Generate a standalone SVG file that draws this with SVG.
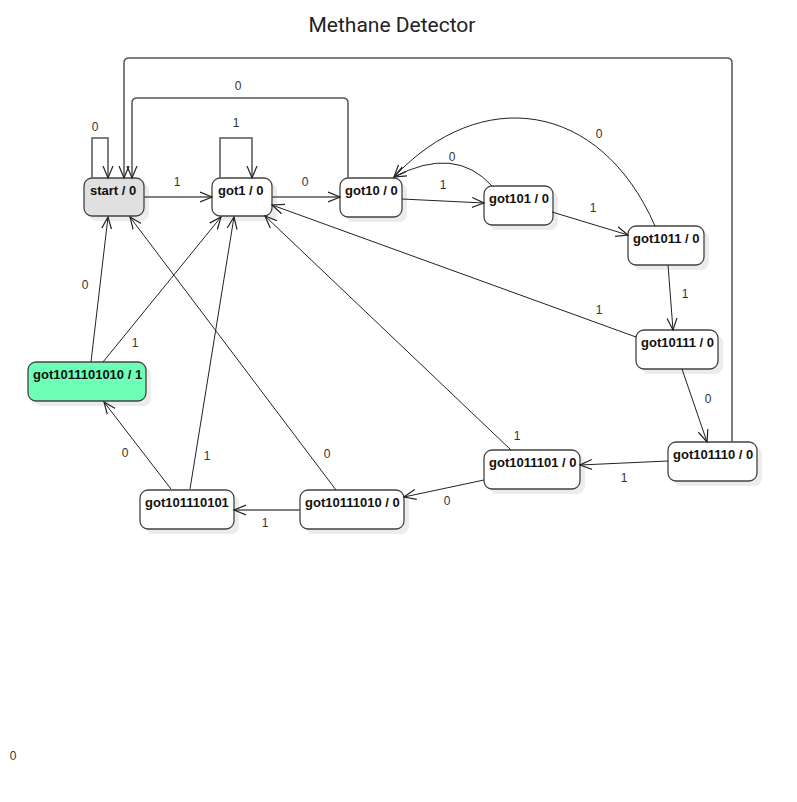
<svg xmlns="http://www.w3.org/2000/svg" width="797" height="802" viewBox="0 0 797 802">
<style>
.bg{fill:#ffffff}
.sh{fill:#ececec}
.nd{fill:#ffffff;stroke:#444;stroke-width:1.3}
.nt{font-family:"Liberation Sans",Arial,sans-serif;font-size:13px;font-weight:bold;fill:#111}
.e{fill:none;stroke:#222;stroke-width:1}
.eo{fill:none;stroke:#555;stroke-width:1.5}
.el{font-family:"Liberation Sans",Arial,sans-serif;font-size:12px;fill:#333;text-anchor:middle}
.title{font-family:Roboto,"Liberation Sans",sans-serif;font-size:21px;fill:#222;text-anchor:middle}
</style>
<defs>
<marker id="arr" markerUnits="userSpaceOnUse" markerWidth="14" markerHeight="12" refX="12" refY="6" orient="auto" viewBox="0 0 14 12">
<path d="M0,1 L12,6 L0,11" fill="none" stroke="#222" stroke-width="1.2"/>
</marker>
</defs>
<rect class="bg" x="0" y="0" width="797" height="802"/>
<text class="title" x="392" y="32">Methane Detector</text>

<g id="start">
<rect class="sh" x="89" y="183" width="60" height="38" rx="8"/>
<rect class="nd" x="84" y="178" width="60" height="38" rx="8" style="fill:#e0e0e0"/>
<text class="nt" x="90" y="195">start / 0</text>
</g>
<g id="got1">
<rect class="sh" x="217" y="183" width="60" height="38" rx="8"/>
<rect class="nd" x="212" y="178" width="60" height="38" rx="8"/>
<text class="nt" x="218" y="195">got1 / 0</text>
</g>
<g id="got10">
<rect class="sh" x="345" y="183" width="62" height="39" rx="8"/>
<rect class="nd" x="340" y="178" width="62" height="39" rx="8"/>
<text class="nt" x="345" y="195">got10 / 0</text>
</g>
<g id="got101">
<rect class="sh" x="489" y="191" width="69" height="39" rx="8"/>
<rect class="nd" x="484" y="186" width="69" height="39" rx="8"/>
<text class="nt" x="489" y="203">got101 / 0</text>
</g>
<g id="got1011">
<rect class="sh" x="633" y="231" width="76" height="39" rx="8"/>
<rect class="nd" x="628" y="226" width="76" height="39" rx="8"/>
<text class="nt" x="633" y="243">got1011 / 0</text>
</g>
<g id="got10111">
<rect class="sh" x="641" y="335" width="82" height="39" rx="8"/>
<rect class="nd" x="636" y="330" width="82" height="39" rx="8"/>
<text class="nt" x="641" y="347">got10111 / 0</text>
</g>
<g id="got101110">
<rect class="sh" x="673" y="447" width="89" height="39" rx="8"/>
<rect class="nd" x="668" y="442" width="89" height="39" rx="8"/>
<text class="nt" x="673" y="459">got101110 / 0</text>
</g>
<g id="got1011101">
<rect class="sh" x="489" y="455" width="96" height="39" rx="8"/>
<rect class="nd" x="484" y="450" width="96" height="39" rx="8"/>
<text class="nt" x="489" y="467">got1011101 / 0</text>
</g>
<g id="got10111010">
<rect class="sh" x="305" y="495" width="104" height="39" rx="8"/>
<rect class="nd" x="300" y="490" width="104" height="39" rx="8"/>
<text class="nt" x="305" y="507">got10111010 / 0</text>
</g>
<g id="got101110101">
<rect class="sh" x="145" y="495" width="94" height="39" rx="8"/>
<rect class="nd" x="140" y="490" width="94" height="39" rx="8"/>
<text class="nt" x="145" y="507">got101110101</text>
</g>
<g id="got1011101010">
<rect class="sh" x="33" y="367" width="118" height="39" rx="8"/>
<rect class="nd" x="28" y="362" width="118" height="39" rx="8" style="fill:#6dffb6"/>
<text class="nt" x="33" y="379">got1011101010 / 1</text>
</g>

<g id="connectors">
<path class="eo" d="M92,178 V138 H108 V178" marker-end="url(#arr)"/>
<text class="el" x="95" y="131">0</text>
<path class="eo" d="M220,178 V138 H252 V178" marker-end="url(#arr)"/>
<text class="el" x="236" y="127">1</text>
<path class="eo" d="M144,197 H212" marker-end="url(#arr)"/>
<text class="el" x="177" y="186">1</text>
<path class="eo" d="M272,197 H340" marker-end="url(#arr)"/>
<text class="el" x="305" y="186">0</text>
<path class="eo" d="M348,178 V103 Q348,98 343,98 H137 Q132,98 132,103 V178" marker-end="url(#arr)"/>
<text class="el" x="238" y="90">0</text>
<path class="eo" d="M732,442 V63 Q732,58 727,58 H129 Q124,58 124,63 V178" marker-end="url(#arr)"/>
<path class="e" d="M402,199 L484,203" marker-end="url(#arr)"/>
<text class="el" x="443" y="189">1</text>
<path class="e" d="M492,186 Q455,145 394,177" marker-end="url(#arr)"/>
<text class="el" x="452" y="161">0</text>
<path class="e" d="M655,226 C600,100 480,85 394,177" marker-end="url(#arr)"/>
<text class="el" x="599" y="138">0</text>
<path class="e" d="M552,212 L628,235" marker-end="url(#arr)"/>
<text class="el" x="593" y="212">1</text>
<path class="e" d="M668,265 L673,330" marker-end="url(#arr)"/>
<text class="el" x="685" y="298">1</text>
<path class="e" d="M636,337 L272,205" marker-end="url(#arr)"/>
<text class="el" x="599" y="314">1</text>
<path class="e" d="M682,369 L707,442" marker-end="url(#arr)"/>
<text class="el" x="708" y="403">0</text>
<path class="e" d="M668,461 L580,465" marker-end="url(#arr)"/>
<text class="el" x="624" y="482">1</text>
<path class="e" d="M511,450 L265,216" marker-end="url(#arr)"/>
<text class="el" x="517" y="440">1</text>
<path class="e" d="M484,480 L404,497" marker-end="url(#arr)"/>
<text class="el" x="447" y="505">0</text>
<path class="e" d="M336,490 L130,217" marker-end="url(#arr)"/>
<text class="el" x="327" y="458">0</text>
<path class="eo" d="M300,510 L234,510" marker-end="url(#arr)"/>
<text class="el" x="265" y="527">1</text>
<path class="e" d="M171,489 L104,402" marker-end="url(#arr)"/>
<text class="el" x="125" y="457">0</text>
<path class="e" d="M190,489 L234,217" marker-end="url(#arr)"/>
<text class="el" x="207" y="460">1</text>
<path class="e" d="M91,362 L108,217" marker-end="url(#arr)"/>
<text class="el" x="85" y="289">0</text>
<path class="e" d="M103,362 L221,217" marker-end="url(#arr)"/>
<text class="el" x="135" y="347">1</text>
<text class="el" x="13" y="760">0</text>
</g>
</svg>
